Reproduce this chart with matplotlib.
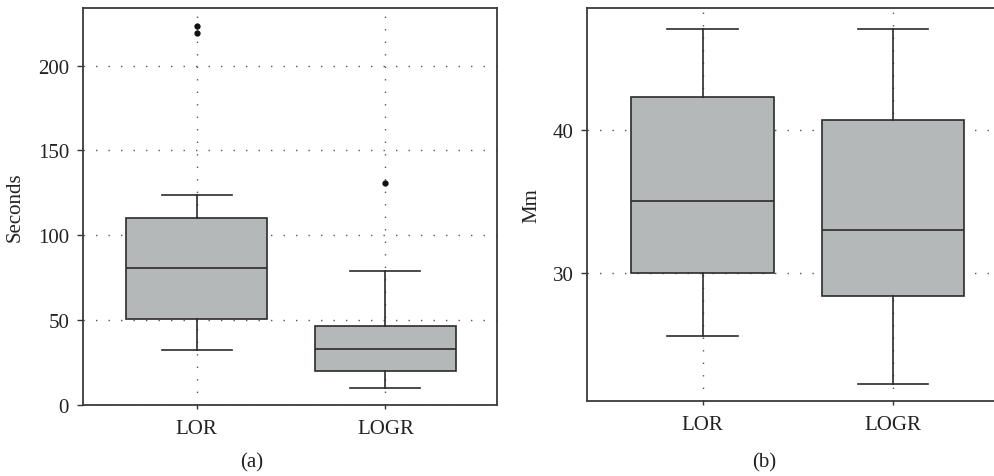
import matplotlib
matplotlib.use("Agg")
import matplotlib.pyplot as plt

# values (box plot summary stats)
groups = ["LOR", "LOGR"]

sec_whislo = [32.5, 9.7]
sec_q1 = [50.8, 19.7]
sec_med = [80.5, 32.9]
sec_q3 = [110.2, 46.6]
sec_whishi = [123.4, 79.1]
sec_fliers = [[223.6, 219.3], [130.5]]

mm_whislo = [25.6, 22.2]
mm_q1 = [30.0, 28.4]
mm_med = [35.0, 33.0]
mm_q3 = [42.3, 40.7]
mm_whishi = [47.1, 47.1]
mm_fliers = [[], []]

plt.rcParams["font.family"] = ["Liberation Serif", "DejaVu Serif"]
plt.rcParams["font.size"] = 15

box_color = "#b5b8b8"
edge = "#2b2b2b"


def make_stats(lo, q1, med, q3, hi, fl):
    stats = []
    for i, g in enumerate(groups):
        stats.append({"label": g, "whislo": lo[i], "q1": q1[i], "med": med[i],
                      "q3": q3[i], "whishi": hi[i], "fliers": fl[i]})
    return stats


def draw(ax, stats):
    ax.grid(True, color="#555555", linestyle=(0, (1, 8)), linewidth=1.0, zorder=0)
    ax.set_axisbelow(True)
    ax.bxp(stats, positions=[1, 2], widths=0.75, capwidths=0.37,
           patch_artist=True, showfliers=True,
           boxprops=dict(facecolor=box_color, edgecolor=edge, linewidth=1.2),
           medianprops=dict(color=edge, linewidth=1.2),
           whiskerprops=dict(color=edge, linewidth=1.2),
           capprops=dict(color=edge, linewidth=1.2),
           flierprops=dict(marker="o", markerfacecolor="#111111",
                           markeredgecolor="#111111", markersize=3.5))
    for s in ax.spines.values():
        s.set_color("#3a3a3a")
        s.set_linewidth(1.3)
    ax.tick_params(axis="y", direction="out", length=4, width=1, pad=6,
                   colors="#333333", labelcolor="#222222")
    ax.tick_params(axis="x", direction="out", length=3, width=1, pad=7,
                   colors="#333333", labelcolor="#222222")


fig = plt.figure(figsize=(9.95, 4.77), dpi=100)

# (a) seconds
ax1 = fig.add_axes([0.0834, 0.1495, 0.4161, 0.8317])
draw(ax1, make_stats(sec_whislo, sec_q1, sec_med, sec_q3, sec_whishi, sec_fliers))
ax1.set_xlim(0.397, 2.592)
ax1.set_ylim(0, 234)
ax1.set_yticks([0, 50, 100, 150, 200])
ax1.set_ylabel("Seconds", color="#222222")
ax1.yaxis.set_label_coords(-0.14, 0.5)

# (b) Mm
ax2 = fig.add_axes([0.5903, 0.1566, 0.4097, 0.8245])
draw(ax2, make_stats(mm_whislo, mm_q1, mm_med, mm_q3, mm_whishi, mm_fliers))
ax2.set_xlim(0.394, 2.536)
ax2.set_ylim(21, 48.55)
ax2.set_yticks([30, 40])
ax2.spines["right"].set_visible(False)
ax2.set_ylabel("Mm", color="#222222")
ax2.yaxis.set_label_coords(-0.112, 0.5)

fig.text(251.7 / 995, 1 - 463 / 477, "(a)", ha="center", va="center", color="#222222")
fig.text(764 / 995, 1 - 463 / 477, "(b)", ha="center", va="center", color="#222222")

fig.savefig("out.png", dpi=100)
